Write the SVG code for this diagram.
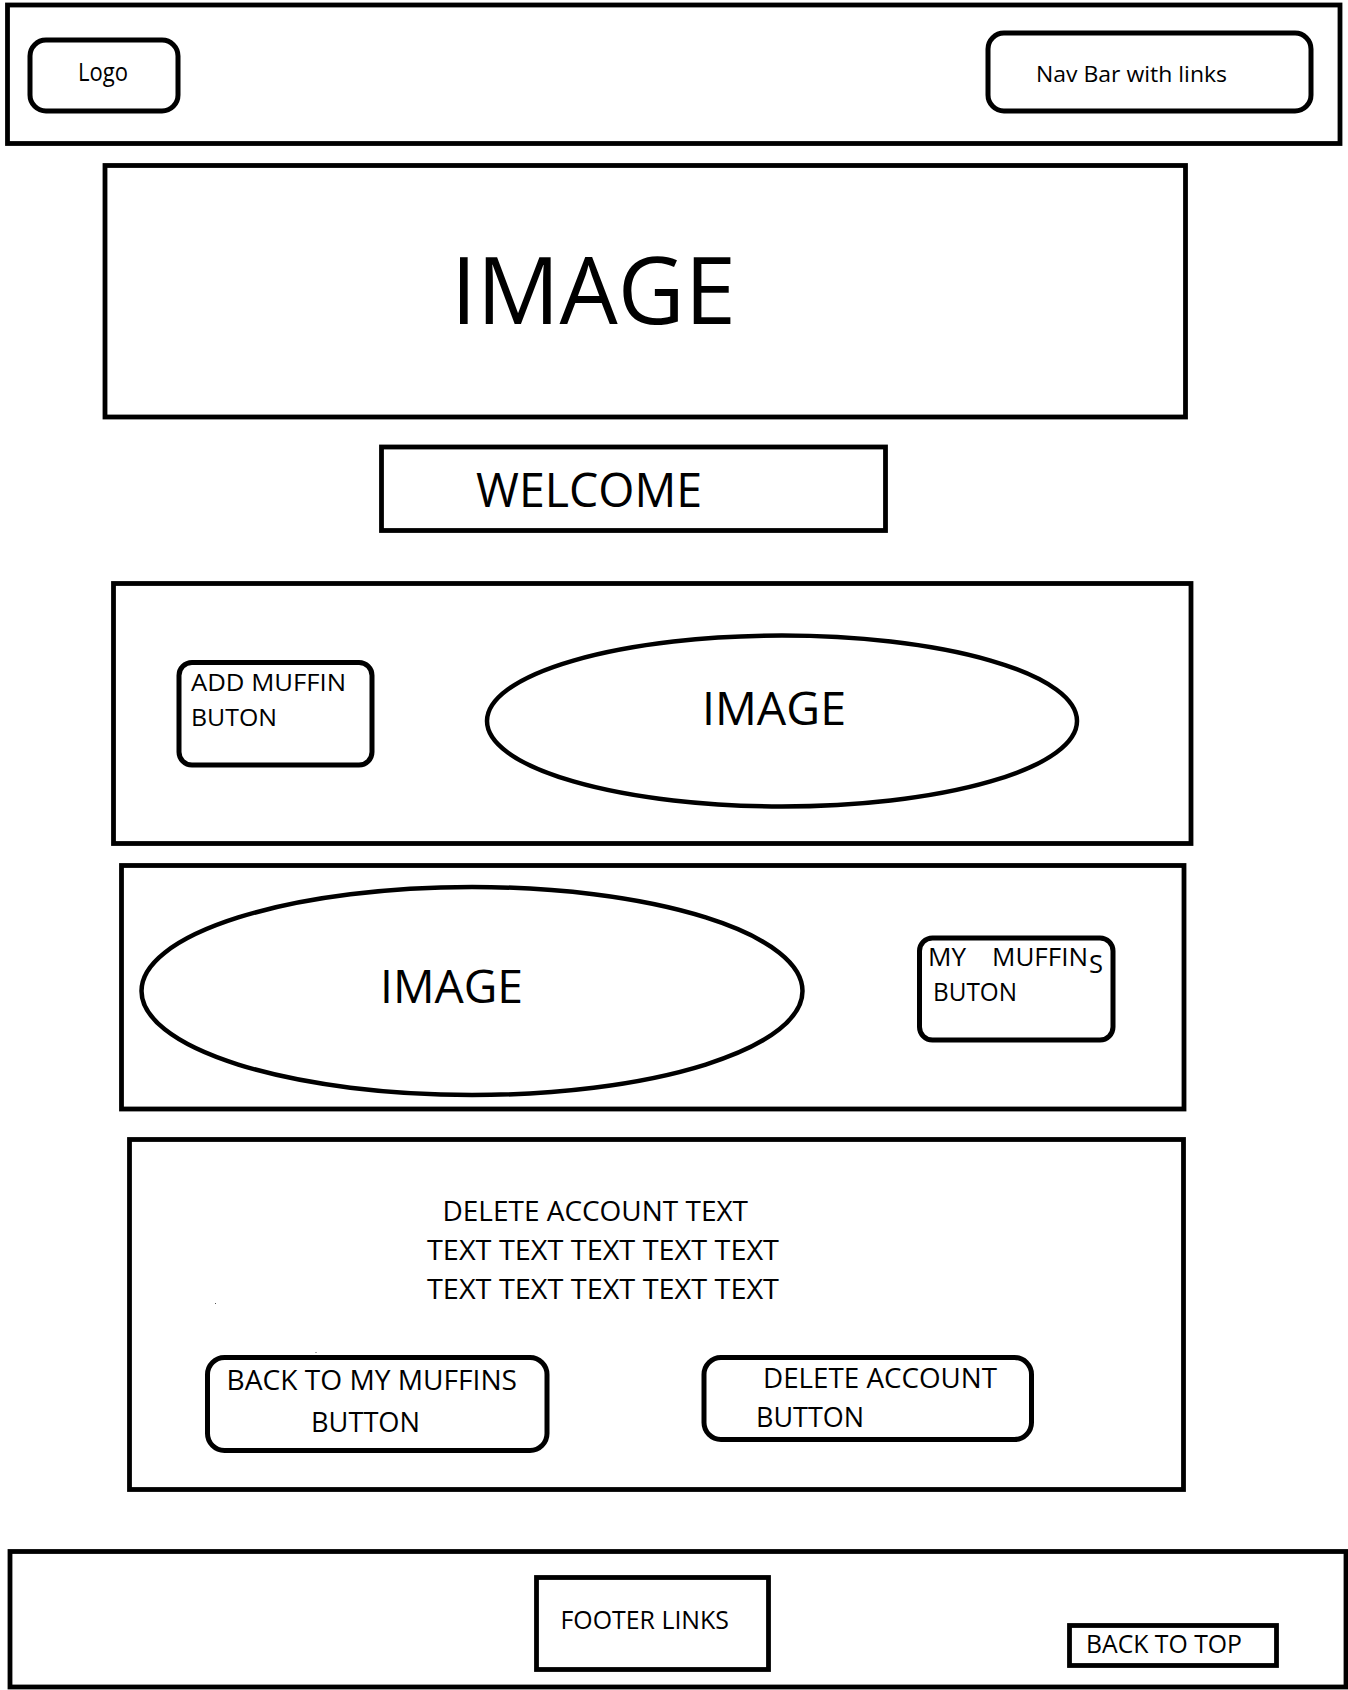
<svg xmlns="http://www.w3.org/2000/svg" width="1348" height="1690" viewBox="0 0 1348 1690">
  <style>
    .frame { fill: none; stroke: #000; stroke-width: 4.8; }
    .btn { fill: none; stroke: #000; stroke-width: 5; }
    .oval { fill: none; stroke: #000; stroke-width: 4.5; }
    .speck { fill: #555; }
    text { font-family: "Open Sans", "Noto Sans", "Liberation Sans", sans-serif; fill: #000; }
  </style>
  <rect width="1348" height="1690" fill="#fff"/>

  <!-- header -->
  <g id="header">
    <rect class="frame" x="7.5" y="5" width="1332.5" height="138.5"/>
  </g>
  <g id="logo">
    <rect class="btn" x="30" y="40" width="148" height="71" rx="16"/>
    <text x="78" y="81" font-size="25" textLength="50" lengthAdjust="spacingAndGlyphs">Logo</text>
  </g>
  <g id="nav">
    <rect class="btn" x="988" y="33" width="323" height="78" rx="16"/>
    <text x="1036" y="82" font-size="22.5" textLength="191" lengthAdjust="spacingAndGlyphs">Nav Bar with links</text>
  </g>

  <!-- hero image -->
  <g id="hero">
    <rect class="frame" x="105" y="165.5" width="1080.5" height="251.5"/>
    <text x="451" y="324" font-size="94" textLength="285" lengthAdjust="spacingAndGlyphs">IMAGE</text>
  </g>

  <!-- welcome banner -->
  <g id="welcome">
    <rect class="frame" x="381.5" y="447" width="504" height="83.5"/>
    <text x="476" y="507" font-size="48" textLength="226" lengthAdjust="spacingAndGlyphs">WELCOME</text>
  </g>

  <!-- add muffin section -->
  <g id="section-add">
    <rect class="frame" x="113.5" y="583.5" width="1077.5" height="260"/>
  </g>
  <g id="add-muffin-button">
    <rect class="btn" x="179" y="662.5" width="193" height="102.5" rx="13"/>
    <text x="191" y="691" font-size="24" textLength="155" lengthAdjust="spacingAndGlyphs">ADD MUFFIN</text>
    <text x="191" y="726" font-size="24" textLength="86" lengthAdjust="spacingAndGlyphs">BUTON</text>
  </g>
  <g id="image-add">
    <ellipse class="oval" cx="782" cy="721" rx="295" ry="85.5"/>
    <text x="702" y="725" font-size="45" textLength="144" lengthAdjust="spacingAndGlyphs">IMAGE</text>
  </g>

  <!-- my muffins section -->
  <g id="section-my">
    <rect class="frame" x="121.5" y="865.5" width="1062.5" height="243.5"/>
  </g>
  <g id="image-my">
    <ellipse class="oval" cx="472" cy="991" rx="330.5" ry="104"/>
    <text x="380" y="1003" font-size="46" textLength="143" lengthAdjust="spacingAndGlyphs">IMAGE</text>
  </g>
  <g id="my-muffins-button">
    <rect class="btn" x="919.5" y="938" width="193.5" height="102" rx="13"/>
    <text x="928" y="966" font-size="25" textLength="38" lengthAdjust="spacingAndGlyphs">MY</text>
    <text x="992" y="966" font-size="25" textLength="96" lengthAdjust="spacingAndGlyphs">MUFFIN</text>
    <text x="1089" y="973" font-size="25" textLength="14" lengthAdjust="spacingAndGlyphs">S</text>
    <text x="933" y="1001" font-size="25" textLength="84" lengthAdjust="spacingAndGlyphs">BUTON</text>
  </g>

  <!-- delete account section -->
  <g id="section-delete">
    <rect class="frame" x="129.5" y="1139.5" width="1054" height="350"/>
    <text x="442.5" y="1220.7" font-size="28" textLength="305.5" lengthAdjust="spacingAndGlyphs">DELETE ACCOUNT TEXT</text>
    <text x="427" y="1260" font-size="28" textLength="352" lengthAdjust="spacingAndGlyphs">TEXT TEXT TEXT TEXT TEXT</text>
    <text x="427" y="1299" font-size="28" textLength="352" lengthAdjust="spacingAndGlyphs">TEXT TEXT TEXT TEXT TEXT</text>
    <!-- two stray specks left in the panel -->
    <rect class="speck" x="215" y="1303" width="1" height="1"/>
    <rect class="speck" x="315.5" y="1352" width="1" height="1"/>
  </g>
  <g id="back-button">
    <rect class="btn" x="207.5" y="1357.5" width="339.5" height="93" rx="17"/>
    <text x="226.5" y="1390" font-size="27" textLength="290.5" lengthAdjust="spacingAndGlyphs">BACK TO MY MUFFINS</text>
    <text x="311" y="1431.7" font-size="27" textLength="109" lengthAdjust="spacingAndGlyphs">BUTTON</text>
  </g>
  <g id="delete-button">
    <rect class="btn" x="704" y="1357.5" width="327.5" height="82" rx="17"/>
    <text x="763" y="1388" font-size="27" textLength="234" lengthAdjust="spacingAndGlyphs">DELETE ACCOUNT</text>
    <text x="756" y="1426.7" font-size="27" textLength="108" lengthAdjust="spacingAndGlyphs">BUTTON</text>
  </g>

  <!-- footer -->
  <g id="footer">
    <rect class="frame" x="10" y="1551.5" width="1336" height="135.5"/>
  </g>
  <g id="footer-links">
    <rect class="frame" x="536.5" y="1577.5" width="232" height="92" stroke-width="5"/>
    <text x="560.5" y="1629" font-size="25" textLength="168.5" lengthAdjust="spacingAndGlyphs">FOOTER LINKS</text>
  </g>
  <g id="back-to-top">
    <rect class="frame" x="1069.5" y="1625.5" width="207" height="40" stroke-width="5"/>
    <text x="1086" y="1652.7" font-size="25" textLength="156" lengthAdjust="spacingAndGlyphs">BACK TO TOP</text>
  </g>

  <!-- connectors: none drawn in this wireframe -->
  <g id="connectors"/>
</svg>
